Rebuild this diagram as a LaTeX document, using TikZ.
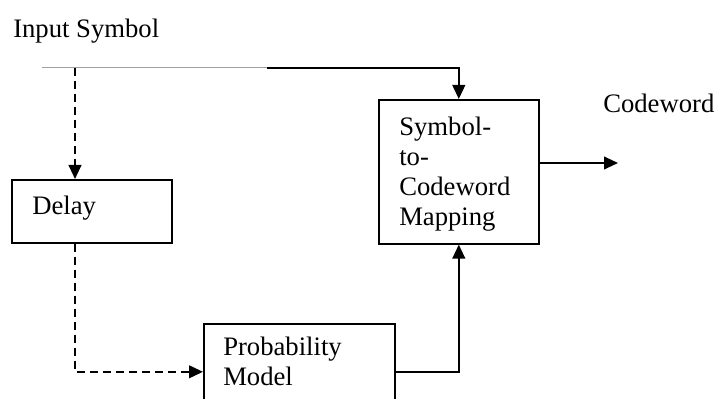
\documentclass[tikz,border=0pt]{standalone}
\usepackage{fontspec}
\setmainfont{Liberation Serif}
\usetikzlibrary{arrows.meta}

\begin{document}
\begin{tikzpicture}[x=0.75pt,y=0.75pt,yscale=-1,xscale=1,
  every node/.style={font=\fontsize{20}{22.5}\selectfont},
  blockbox/.style={draw,line width=1.2pt,anchor=north west,inner sep=0pt},
  txt/.style={inner sep=0pt,align=left},
  flow/.style={line width=1.5pt,-{Triangle[length=10.5pt,width=9.5pt]}},
  dashflow/.style={flow,dash pattern=on 6pt off 3.75pt}]
\clip (0,0) rectangle (718,399);
%Shape: Rectangle [id:delay]
\node[blockbox,minimum width=120pt,minimum height=47.25pt] (delay) at (11,179) {};
%Shape: Rectangle [id:map]
\node[blockbox,minimum width=120pt,minimum height=108pt] (map) at (378,99) {};
%Shape: Rectangle [id:prob]
\node[blockbox,minimum width=143.25pt,minimum height=72pt] (prob) at (203,323) {};
% Text Node
\node[txt,anchor=base west] (intxt) at (13,38) {Input Symbol};
% Text Node
\node[txt,anchor=base west] (delaytxt) at (32,215) {Delay};
% Text Node
\node[txt,anchor=north west] (maptxt) at (399,117) {Symbol-\\to-\\Codeword\\Mapping};
% Text Node
\node[txt,anchor=north west] (probtxt) at (223,337) {Probability\\Model};
% Text Node
\node[txt,anchor=base west] (cwtxt) at (603,113) {Codeword};
%Coordinates
\coordinate (in) at (42,68);
\coordinate (split) at (75,68);
\coordinate (bend) at (267,68);
\coordinate (out) at (618,163);
%Straight Lines
\draw[color={rgb, 255:red, 160; green, 160; blue, 160},line width=0.75pt] (in) -- (bend);
\draw[flow] (bend) -| (map.north);
\draw[dashflow] (split) -- (split |- delay.north);
\draw[dashflow] (split |- delay.south) |- (prob.west);
\draw[flow] (prob.east) -| (map.south);
\draw[flow] (map.east |- out) -- (out);
\end{tikzpicture}
\end{document}
